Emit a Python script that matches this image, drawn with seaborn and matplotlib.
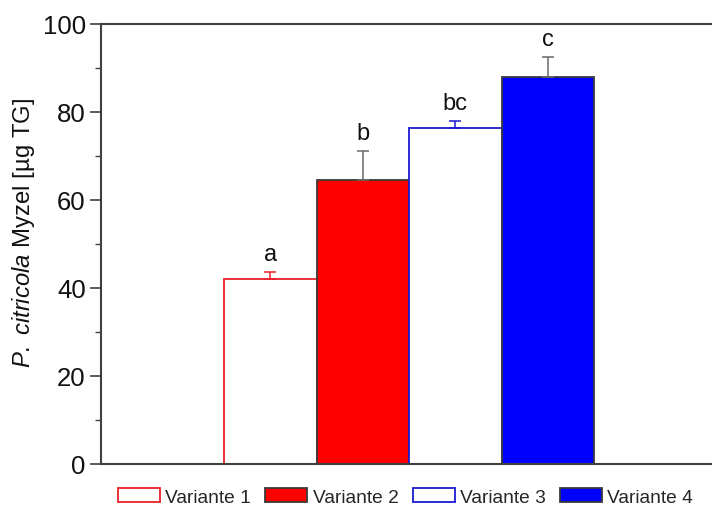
import matplotlib
matplotlib.use("Agg")
import matplotlib.pyplot as plt
import seaborn as sns
import pandas as pd
from matplotlib.patches import Patch
from matplotlib.ticker import MultipleLocator

variants = ["Variante 1", "Variante 2", "Variante 3", "Variante 4"]
means = [42.0, 64.5, 76.4, 87.9]
errors = [1.7, 6.7, 1.6, 4.5]
letters = ["a", "b", "bc", "c"]
fill_colors = ["#ffffff", "#ff0000", "#ffffff", "#0000ff"]
edge_colors = ["#e8222a", "#3a3a3a", "#1a1ad0", "#3a3a3a"]
err_colors = ["#e8222a", "#6a6a6a", "#1a1ad0", "#6a6a6a"]

sns.set_theme(style="white")
plt.rcParams["font.family"] = ["Liberation Sans", "DejaVu Sans"]
plt.rcParams["mathtext.fontset"] = "custom"
plt.rcParams["mathtext.it"] = "Liberation Sans:italic"
plt.rcParams["mathtext.rm"] = "Liberation Sans"

df = pd.DataFrame({"variant": variants, "mean": means})

fig = plt.figure(figsize=(7.12, 5.10), dpi=100)
ax = fig.add_axes([101/712, 45/510, 1 - 101/712 + 0.01, 440/510])

sns.barplot(data=df, x="variant", y="mean", hue="variant", palette=fill_colors,
            saturation=1, width=1.0, dodge=False, legend=False, ax=ax, errorbar=None)

for p, ec in zip(ax.patches, edge_colors):
    p.set_edgecolor(ec)
    p.set_linewidth(1.3)
    p.set_zorder(2)

for i, (m, e, c, lab) in enumerate(zip(means, errors, err_colors, letters)):
    ax.errorbar(i, m, yerr=[[0], [e]], color=c, capsize=4, elinewidth=1.1,
                capthick=1.1, zorder=3)
    ax.text(i, m + e + 1.6, lab, ha="center", va="bottom", fontsize=17, color="#111111")

ax.set_ylim(0, 100)
ax.set_xlim(-1.83, 4.85)
ax.yaxis.set_major_locator(MultipleLocator(20))
ax.yaxis.set_minor_locator(MultipleLocator(10))
ax.tick_params(axis="y", which="major", direction="out", length=8, width=1.2,
               color="#404040", labelsize=18.5, labelcolor="#111111", left=True, pad=3)
ax.tick_params(axis="y", which="minor", direction="out", length=4, width=1.0,
               color="#404040", left=True)
ax.tick_params(axis="x", bottom=False, labelbottom=False)
ax.set_xlabel("")
ax.set_ylabel(r"$\it{P.\ citricola}$ Myzel [µg TG]", fontsize=17.2, color="#111111")
ax.yaxis.set_label_coords(-0.104, 0.527)

for s in ["left", "bottom", "top"]:
    ax.spines[s].set_color("#404040")
    ax.spines[s].set_linewidth(1.5)
ax.spines["right"].set_visible(False)

handles = [Patch(facecolor=f, edgecolor=e, linewidth=1.3, label=v)
           for f, e, v in zip(fill_colors, edge_colors, variants)]
fig.legend(handles=handles, loc="center", bbox_to_anchor=(0.5695, 0.0235), ncol=4,
           frameon=False, fontsize=13.8, handlelength=2.2, handleheight=0.7,
           handletextpad=0.27, columnspacing=0.74)

fig.savefig("out.png", dpi=100)
